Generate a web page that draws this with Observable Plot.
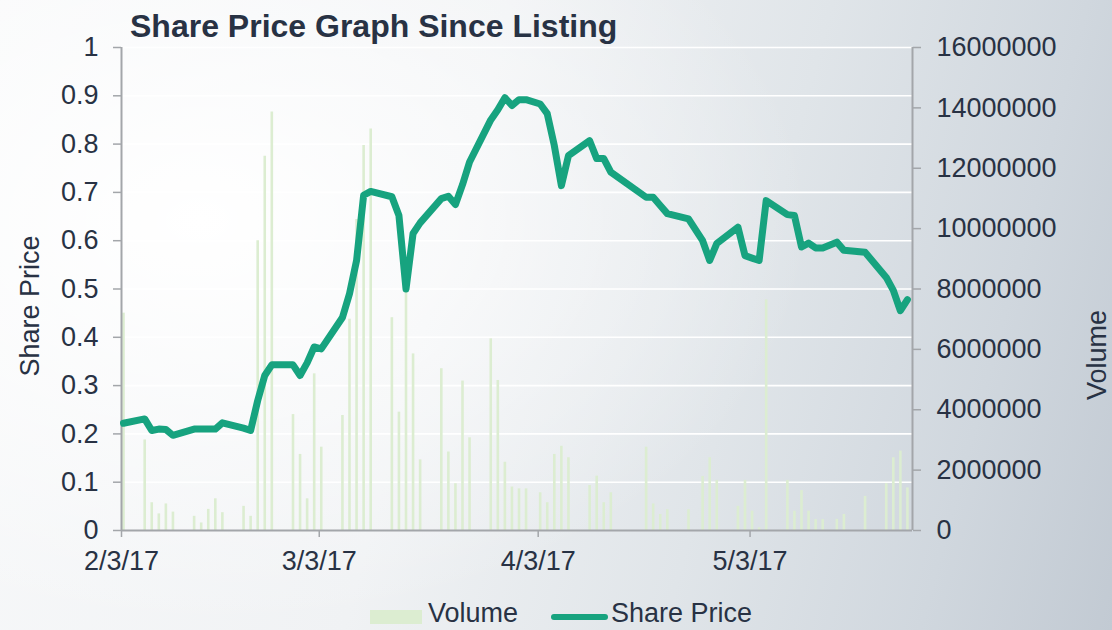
<!DOCTYPE html>
<html>
<head>
<meta charset="utf-8">
<script src="https://cdn.jsdelivr.net/npm/d3@7"></script>
<script src="https://cdn.jsdelivr.net/npm/@observablehq/plot@0.6"></script>
<style>
  html, body { margin: 0; padding: 0; }
  body { width: 1112px; height: 630px; overflow: hidden; font-family: "Liberation Sans", Arial, sans-serif; }
  #wrap {
    position: relative; width: 1112px; height: 630px; overflow: hidden;
    background:
      radial-gradient(ellipse 55% 65% at 18% 35%, rgba(255,255,255,1) 0%, rgba(255,255,255,0) 100%),
      linear-gradient(105deg, #f8f9fa 0%, #f0f2f4 40%, #e0e5e9 65%, #d0d7de 85%, #c2cad3 100%);
  }
  #title { position: absolute; left: 130px; top: 10px; font-size: 32px; line-height: 32px; font-weight: bold; color: #283244; white-space: nowrap; z-index: 2; }
  #chart { position: absolute; left: 0; top: 0; }
  .leg { position: absolute; font-size: 27px; line-height: 27px; color: #283244; white-space: nowrap; }
</style>
</head>
<body>
<div id="wrap">
  <div id="chart"></div>
  <div id="title">Share Price Graph Since Listing</div>
  <div id="legend"></div>
</div>
<script>
// ---- data ----
const dates = [
  "2017-02-03","2017-02-06","2017-02-07","2017-02-08","2017-02-09","2017-02-10",
  "2017-02-13","2017-02-14","2017-02-15","2017-02-16","2017-02-17",
  "2017-02-20","2017-02-21","2017-02-22","2017-02-23","2017-02-24",
  "2017-02-27","2017-02-28","2017-03-01","2017-03-02","2017-03-03",
  "2017-03-06","2017-03-07","2017-03-08","2017-03-09","2017-03-10",
  "2017-03-13","2017-03-14","2017-03-15","2017-03-16","2017-03-17",
  "2017-03-20","2017-03-21","2017-03-22","2017-03-23","2017-03-24",
  "2017-03-27","2017-03-28","2017-03-29","2017-03-30","2017-03-31","2017-04-01",
  "2017-04-03","2017-04-04","2017-04-05","2017-04-06","2017-04-07",
  "2017-04-10","2017-04-11","2017-04-12","2017-04-13",
  "2017-04-18","2017-04-19","2017-04-20","2017-04-21",
  "2017-04-24","2017-04-26","2017-04-27","2017-04-28",
  "2017-05-01","2017-05-02","2017-05-03","2017-05-04","2017-05-05",
  "2017-05-08","2017-05-09","2017-05-10","2017-05-11","2017-05-12","2017-05-13",
  "2017-05-15","2017-05-16","2017-05-19",
  "2017-05-22","2017-05-23","2017-05-24","2017-05-25"
];
const sharePrice = [
  0.222,0.231,0.207,0.210,0.209,0.197,
  0.210,0.210,0.210,0.210,0.223,
  0.212,0.207,0.269,0.321,0.343,
  0.343,0.321,0.347,0.380,0.376,
  0.441,0.490,0.559,0.694,0.702,
  0.691,0.652,0.500,0.615,0.637,
  0.687,0.692,0.675,0.716,0.763,
  0.850,0.871,0.896,0.880,0.892,0.892,
  0.883,0.863,0.797,0.714,0.776,
  0.807,0.770,0.770,0.742,
  0.690,0.690,0.673,0.656,
  0.645,0.600,0.559,0.594,
  0.628,0.569,0.564,0.559,0.683,
  0.654,0.652,0.587,0.595,0.585,0.585,
  0.597,0.580,0.576,
  0.524,0.497,0.455,0.478
];
const volume = [
  7200000,3000000,920000,550000,880000,610000,
  470000,250000,700000,1050000,590000,
  800000,470000,9600000,12400000,13860000,
  3840000,2520000,1050000,5190000,2760000,
  3810000,7000000,10300000,12750000,13300000,
  7050000,3920000,7900000,5850000,2340000,
  5360000,2600000,1550000,4950000,3070000,
  6350000,4970000,2260000,1440000,1380000,1380000,
  1250000,920000,2520000,2790000,2410000,
  1490000,1800000,920000,1250000,
  2760000,880000,530000,690000,
  690000,1790000,2410000,1660000,
  800000,1660000,640000,90000,7640000,
  1660000,640000,1320000,640000,360000,360000,
  370000,530000,1130000,
  1550000,2410000,2630000,1410000
];
const priceTicks = [0, 0.1, 0.2, 0.3, 0.4, 0.5, 0.6, 0.7, 0.8, 0.9, 1];
const volumeTicks = [0, 2000000, 4000000, 6000000, 8000000, 10000000, 12000000, 14000000, 16000000];
const dateTicks = ["2017-02-03", "2017-03-03", "2017-04-03", "2017-05-03"];
const xStart = "2017-02-03", xEnd = "2017-05-26";
const seriesNames = ["Volume", "Share Price"];

// ---- build ----
const parse = s => new Date(s + "T00:00:00Z");
const VMAX = volumeTicks[volumeTicks.length - 1];
const rows = dates.map((d, i) => ({date: parse(d), price: sharePrice[i], volume: volume[i]}));
const fmtDate = d => `${d.getUTCMonth() + 1}/${d.getUTCDate()}/${String(d.getUTCFullYear()).slice(2)}`;
const axisGrey = "#a3a6aa";
const textCol = "#283244";
const lineCol = "#17a37f";
const barCol = "#dcedd1";

const chart = Plot.plot({
  width: 1112,
  height: 590,
  marginTop: 47,
  marginBottom: 60,
  marginLeft: 121,
  marginRight: 200,
  style: {background: "transparent", fontFamily: "'Liberation Sans', Arial, sans-serif", fontSize: "27px", color: textCol, overflow: "visible"},
  x: {type: "utc", domain: [parse(xStart), parse(xEnd)]},
  y: {domain: [0, 1]},
  marks: [
    Plot.gridY(priceTicks.slice(1), {stroke: "#ffffff", strokeOpacity: 1, strokeWidth: 1.6}),
    Plot.ruleX(rows.filter(d => d.volume > 0), {x: "date", y1: 0, y2: d => d.volume / VMAX, stroke: barCol, strokeWidth: 2.6, dx: 2}),
    Plot.ruleY([0], {stroke: axisGrey, strokeWidth: 2}),
    Plot.ruleX([parse(xStart), parse(xEnd)], {stroke: axisGrey, strokeWidth: 2}),
    Plot.axisY(priceTicks, {anchor: "left", tickSize: 8, tickPadding: 15, stroke: axisGrey, strokeWidth: 1.5, fill: textCol, label: null, tickFormat: d => String(d)}),
    Plot.axisY(volumeTicks.map(v => v / VMAX), {anchor: "right", tickSize: 8, tickPadding: 16, stroke: axisGrey, strokeWidth: 1.5, fill: textCol, label: null, tickFormat: d => String(Math.round(d * VMAX))}),
    Plot.axisX(dateTicks.map(parse), {anchor: "bottom", tickSize: 7, tickPadding: 13, stroke: axisGrey, strokeWidth: 1.5, fill: textCol, label: null, tickFormat: fmtDate}),
    Plot.lineY(rows, {x: "date", y: "price", stroke: lineCol, strokeWidth: 7, strokeLinejoin: "round", strokeLinecap: "round", dx: 2}),
    Plot.text(["Share Price"], {frameAnchor: "left", textAnchor: "middle", rotate: -90, dx: -91, dy: 17, fontSize: 27, fill: textCol}),
    Plot.text(["Volume"], {frameAnchor: "right", textAnchor: "middle", rotate: -90, dx: 185, dy: 66, fontSize: 27, fill: textCol})
  ]
});
document.getElementById("chart").appendChild(chart);

// ---- legend ----
const legend = document.getElementById("legend");
legend.innerHTML = `
  <div style="position:absolute;left:370px;top:610px;width:52px;height:14px;background:${barCol};"></div>
  <div class="leg" style="left:428px;top:600px;">${seriesNames[0]}</div>
  <div style="position:absolute;left:551px;top:614px;width:57px;height:6px;border-radius:3px;background:${lineCol};"></div>
  <div class="leg" style="left:611px;top:600px;">${seriesNames[1]}</div>
`;
</script>
</body>
</html>
